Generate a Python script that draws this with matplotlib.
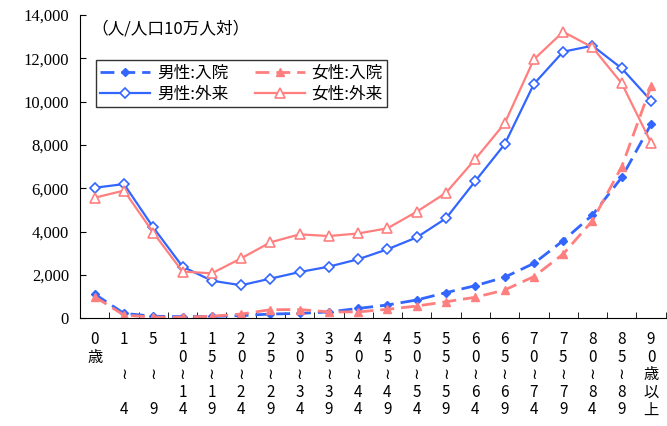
import matplotlib
matplotlib.use('Agg')
import matplotlib.pyplot as plt

plt.rcParams['font.family'] = ['Noto Sans CJK JP', 'DejaVu Sans']

ages = ['0\n歳', '1\n\n≀\n\n4', '5\n\n≀\n\n9', '1\n0\n≀\n1\n4', '1\n5\n≀\n1\n9',
	'2\n0\n≀\n2\n4', '2\n5\n≀\n2\n9', '3\n0\n≀\n3\n4', '3\n5\n≀\n3\n9', '4\n0\n≀\n4\n4',
	'4\n5\n≀\n4\n9', '5\n0\n≀\n5\n4', '5\n5\n≀\n5\n9', '6\n0\n≀\n6\n4', '6\n5\n≀\n6\n9',
	'7\n0\n≀\n7\n4', '7\n5\n≀\n7\n9', '8\n0\n≀\n8\n4', '8\n5\n≀\n8\n9', '9\n0\n歳\n以\n上']

male_in = [1120, 230, 100, 80, 90, 130, 200, 230, 300, 460, 620, 850, 1190, 1510, 1900, 2540, 3590, 4770, 6510, 8960]
female_in = [1000, 150, 60, 50, 100, 200, 400, 410, 300, 300, 420, 570, 770, 975, 1310, 1930, 2970, 4510, 7000, 10720]
male_out = [6030, 6200, 4200, 2390, 1740, 1530, 1835, 2140, 2390, 2730, 3190, 3740, 4620, 6340, 8035, 10820, 12310, 12585, 11540, 10050]
female_out = [5570, 5900, 3960, 2160, 2080, 2770, 3510, 3880, 3800, 3920, 4160, 4925, 5800, 7355, 9000, 11955, 13230, 12510, 10850, 8110]

blue = '#3366ff'
pink = '#ff7f7f'

fig = plt.figure(figsize=(6.67, 4.26), dpi=100)
ax = fig.add_axes([0.12, 0.2526, 0.878, 0.712])
x = list(range(len(ages)))

ax.plot(x, male_in, color=blue, lw=2, ls=(0, (5, 2.5)), marker='D', ms=4.5, mfc=blue, mec=blue, label='男性:入院')
ax.plot(x, male_out, color=blue, lw=1.6, marker='D', ms=5, mfc='white', mec=blue, mew=1.2, label='男性:外来')
ax.plot(x, female_in, color=pink, lw=2, ls=(0, (5, 2.5)), marker='^', ms=6, mfc=pink, mec=pink, label='女性:入院')
ax.plot(x, female_out, color=pink, lw=1.6, marker='^', ms=7, mfc='white', mec=pink, mew=1.2, label='女性:外来')

ax.set_xlim(-0.5, 19.5)
ax.set_ylim(0, 14000)
ax.set_yticks(range(0, 14001, 2000))
ax.set_yticklabels(['{:,}'.format(v) for v in range(0, 14001, 2000)], family=['Liberation Serif', 'DejaVu Sans'], fontsize=12)
ax.set_xticks(x)
ax.set_xticklabels(ages, fontsize=11, linespacing=1.05, va='top')
ax.set_xticks([i + 0.5 for i in range(-1, 20)], minor=True)
ax.tick_params(axis='x', which='major', length=0, pad=9)
ax.tick_params(axis='x', which='minor', direction='in', length=4)
ax.tick_params(axis='y', direction='in', length=4, pad=8)
ax.spines['top'].set_visible(False)
ax.spines['right'].set_visible(False)

ax.text(-0.1, 13350, '（人/人口10万人対）', fontsize=12, va='center', ha='left')

leg = ax.legend(ncol=2, loc='upper left', bbox_to_anchor=(0.013, 0.878), fontsize=12,
	frameon=True, fancybox=False, edgecolor='black', handlelength=3.0, columnspacing=1.6,
	borderpad=0.25, labelspacing=0.25, handletextpad=0.4)
leg.get_frame().set_linewidth(1.0)

fig.savefig('out.png', dpi=100)
